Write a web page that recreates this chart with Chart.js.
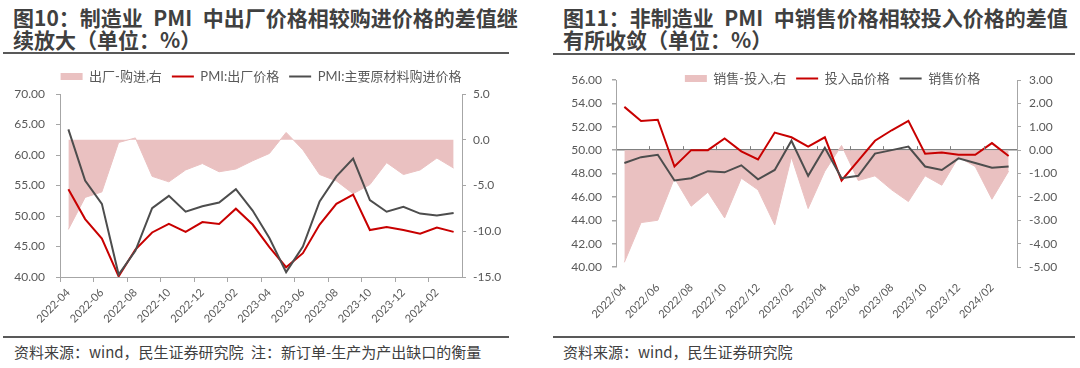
<!DOCTYPE html>
<html>
<head>
<meta charset="utf-8">
<script src="https://cdn.jsdelivr.net/npm/chart.js@4.4.1/dist/chart.umd.min.js"></script>
<style>
html, body { margin: 0; padding: 0; background: #fff; }
body { width: 1080px; height: 368px; position: relative; overflow: hidden; font-family: "Noto Sans CJK SC", sans-serif; }
.title { position: absolute; top: 6px; font-size: 21px; line-height: 22px; font-weight: bold; color: #404040; white-space: nowrap; }
.rule { position: absolute; height: 2px; background: #595959; }
.note { position: absolute; top: 342px; font-size: 15px; line-height: 20px; color: #404040; white-space: nowrap; }
canvas { position: absolute; }
</style>
</head>
<body>
<div class="title" style="left:13px">图10：制造业&ensp;PMI&ensp;中出厂价格相较购进价格的差值继<br>续放大（单位：%）</div>
<div class="rule" style="left:3px; width:506px; top:52px"></div>
<div class="title" style="left:563px">图11：非制造业&ensp;PMI&ensp;中销售价格相较投入价格的差值<br>有所收敛（单位：%）</div>
<div class="rule" style="left:553px; width:522px; top:53px"></div>

<canvas id="c1" width="530" height="277" style="left:0; top:60px"></canvas>
<canvas id="c2" width="535" height="275" style="left:545px; top:62px"></canvas>

<div class="rule" style="left:3px; width:506px; top:336px"></div>
<div class="rule" style="left:553px; width:522px; top:336px"></div>
<div class="note" style="left:14px">资料来源：wind，民生证券研究院&ensp;注：新订单-生产为产出缺口的衡量</div>
<div class="note" style="left:563px">资料来源：wind，民生证券研究院</div>

<script>
// months shown on both charts
const months1 = ['2022-04', '2022-05', '2022-06', '2022-07', '2022-08', '2022-09', '2022-10', '2022-11', '2022-12',
    '2023-01', '2023-02', '2023-03', '2023-04', '2023-05', '2023-06', '2023-07', '2023-08', '2023-09', '2023-10',
    '2023-11', '2023-12', '2024-01', '2024-02', '2024-03'];
const months2 = ['2022/04', '2022/05', '2022/06', '2022/07', '2022/08', '2022/09', '2022/10', '2022/11', '2022/12',
    '2023/01', '2023/02', '2023/03', '2023/04', '2023/05', '2023/06', '2023/07', '2023/08', '2023/09', '2023/10',
    '2023/11', '2023/12', '2024/01', '2024/02', '2024/03'];

// chart 1: manufacturing PMI
const outputPrice = [54.4, 49.5, 46.3, 40.1, 44.5, 47.3, 48.7, 47.4, 49.0, 48.7, 51.2, 48.6, 44.9, 41.6, 43.9, 48.6, 52.0, 53.5, 47.7, 48.2, 47.7, 47.1, 48.1, 47.4];
const purchasePrice = [64.2, 55.8, 52.0, 40.4, 44.3, 51.3, 53.3, 50.7, 51.6, 52.2, 54.4, 50.9, 46.4, 40.8, 45.0, 52.4, 56.5, 59.4, 52.6, 50.7, 51.5, 50.4, 50.1, 50.5];
const gap1 = [-9.8, -6.3, -5.7, -0.3, 0.2, -4.0, -4.6, -3.3, -2.6, -3.5, -3.2, -2.3, -1.5, 0.8, -1.1, -3.8, -4.5, -5.9, -4.9, -2.5, -3.8, -3.3, -2.0, -3.1];

// chart 2: non-manufacturing PMI
const inputPrice = [53.7, 52.5, 52.6, 48.6, 50.0, 50.0, 51.0, 49.9, 49.2, 51.5, 51.1, 50.3, 51.1, 47.4, 49.1, 50.8, 51.7, 52.5, 49.7, 49.8, 49.6, 49.6, 50.6, 49.5];
const salesPrice = [48.9, 49.4, 49.6, 47.4, 47.6, 48.2, 48.1, 48.7, 47.5, 48.3, 50.8, 47.8, 50.2, 47.6, 47.8, 49.7, 50.0, 50.3, 48.6, 48.3, 49.3, 48.9, 48.5, 48.6];
const gap2 = [-4.8, -3.1, -3.0, -1.2, -2.4, -1.8, -2.9, -1.2, -1.7, -3.2, -0.3, -2.5, -0.9, 0.2, -1.3, -1.1, -1.7, -2.2, -1.1, -1.5, -0.3, -0.7, -2.1, -0.9];

const PINK = '#eac1c1';
const RED = '#c80000';
const DARK = '#4d4d4d';
const AXIS = '#a6a6a6';
const LABEL = '#595959';
const NUM_FONT = { family: 'Lato', size: 12 };

// fix legend height, nudge it sideways, and let it paint past its box
const legendTweak = {
    id: 'legendTweak',
    beforeInit(chart, args, opts) {
        const fit = chart.legend.fit;
        chart.legend.fit = function() {
            fit.call(this);
            this.height = opts.height;
        };
    },
    afterLayout(chart, args, opts) {
        chart.legend.left += opts.shift;
        chart.legend.right += opts.shift;
        chart.legend.bottom += opts.extra || 0;
    }
};

// small upward ticks on the 50 line of chart 2
const midTicks = {
    id: 'midTicks',
    afterDatasetsDraw(chart) {
        const xs = chart.scales.x;
        const base = chart.scales.y.getPixelForValue(50);
        const ctx = chart.ctx;
        ctx.save();
        ctx.strokeStyle = '#808080';
        ctx.lineWidth = 1;
        for (let i = 2; i < months2.length; i += 2) {
            const px = Math.round((xs.getPixelForValue(i - 1) + xs.getPixelForValue(i)) / 2) + 0.5;
            ctx.beginPath();
            ctx.moveTo(px, base);
            ctx.lineTo(px, base - 4);
            ctx.stroke();
        }
        ctx.restore();
    }
};

function legendItems(chart) {
    return chart.data.datasets.map((ds, i) => ({
        text: ds.label,
        fillStyle: ds.fill ? PINK : ds.borderColor,
        strokeStyle: ds.fill ? PINK : ds.borderColor,
        lineWidth: ds.fill ? 0 : 2,
        pointStyle: ds.fill ? 'rect' : 'line',
        fontColor: LABEL,
        hidden: false,
        datasetIndex: i
    }));
}

function legendOptions() {
    return {
        display: true,
        position: 'top',
        labels: {
            usePointStyle: true,
            pointStyleWidth: 22,
            boxHeight: 7,
            padding: 10,
            color: LABEL,
            font: { family: 'Lato, "Noto Sans CJK SC"', size: 13 },
            generateLabels: legendItems
        }
    };
}

function createChart1() {
    const ctx = document.getElementById('c1').getContext('2d');
    new Chart(ctx, {
        type: 'line',
        data: {
            labels: months1,
            datasets: [{
                label: '出厂-购进,右',
                data: gap1,
                yAxisID: 'y1',
                fill: 'origin',
                backgroundColor: PINK,
                borderColor: PINK,
                borderWidth: 1,
                pointRadius: 0,
                tension: 0,
                order: 3
            }, {
                label: 'PMI:出厂价格',
                data: outputPrice,
                yAxisID: 'y',
                fill: false,
                borderColor: RED,
                borderWidth: 2,
                pointRadius: 0,
                tension: 0,
                order: 2
            }, {
                label: 'PMI:主要原材料购进价格',
                data: purchasePrice,
                yAxisID: 'y',
                fill: false,
                borderColor: DARK,
                borderWidth: 2,
                pointRadius: 0,
                tension: 0,
                order: 1
            }]
        },
        options: {
            responsive: false,
            animation: false,
            events: [],
            layout: { padding: 0 },
            plugins: {
                legend: legendOptions(),
                legendTweak: { height: 34, shift: -4, extra: 0 },
                tooltip: { enabled: false }
            },
            scales: {
                x: {
                    offset: true,
                    grid: {
                        offset: true,
                        drawOnChartArea: false,
                        tickLength: 5,
                        color: c => (c.index % 2 === 0 ? AXIS : 'rgba(0,0,0,0)')
                    },
                    border: { color: AXIS },
                    ticks: {
                        autoSkip: false,
                        maxRotation: 45,
                        minRotation: 45,
                        padding: 4,
                        color: LABEL,
                        font: { family: 'Lato', size: 11 },
                        callback: (v, i) => (i % 2 === 0 ? months1[i] : '')
                    },
                    afterFit: s => { s.height = 60; }
                },
                y: {
                    position: 'left',
                    min: 40,
                    max: 70,
                    grid: { drawOnChartArea: false, tickLength: 4, color: AXIS },
                    border: { color: AXIS },
                    ticks: { stepSize: 5, padding: 11, color: LABEL, font: NUM_FONT, callback: v => v.toFixed(2) },
                    afterFit: s => { s.width = 60; }
                },
                y1: {
                    position: 'right',
                    min: -15,
                    max: 5,
                    grid: { drawOnChartArea: false, tickLength: 4, color: AXIS },
                    border: { color: AXIS },
                    ticks: { stepSize: 5, padding: 7, color: LABEL, font: NUM_FONT, callback: v => v.toFixed(1) },
                    afterFit: s => { s.width = 68; }
                }
            }
        },
        plugins: [legendTweak]
    });
}

function createChart2() {
    const ctx = document.getElementById('c2').getContext('2d');
    new Chart(ctx, {
        type: 'line',
        data: {
            labels: months2,
            datasets: [{
                label: '销售-投入,右',
                data: gap2,
                yAxisID: 'y1',
                fill: 'origin',
                backgroundColor: PINK,
                borderColor: PINK,
                borderWidth: 1,
                pointRadius: 0,
                tension: 0,
                order: 3
            }, {
                label: '投入品价格',
                data: inputPrice,
                yAxisID: 'y',
                fill: false,
                borderColor: RED,
                borderWidth: 2,
                pointRadius: 0,
                tension: 0,
                order: 2
            }, {
                label: '销售价格',
                data: salesPrice,
                yAxisID: 'y',
                fill: false,
                borderColor: DARK,
                borderWidth: 2,
                pointRadius: 0,
                tension: 0,
                order: 1
            }]
        },
        options: {
            responsive: false,
            animation: false,
            events: [],
            layout: { padding: 0 },
            plugins: {
                legend: legendOptions(),
                legendTweak: { height: 18, shift: 20, extra: 14 },
                tooltip: { enabled: false }
            },
            scales: {
                x: {
                    offset: true,
                    grid: { display: false },
                    border: { display: false },
                    ticks: {
                        autoSkip: false,
                        maxRotation: 45,
                        minRotation: 45,
                        padding: 6,
                        color: LABEL,
                        font: { family: 'Lato', size: 11 },
                        callback: (v, i) => (i % 2 === 0 ? months2[i] : '')
                    },
                    afterFit: s => { s.height = 70; }
                },
                y: {
                    position: 'left',
                    min: 40,
                    max: 56,
                    grid: {
                        drawOnChartArea: true,
                        tickLength: 4,
                        tickColor: AXIS,
                        lineWidth: 1.5,
                        color: c => (c.tick && c.tick.value === 50 ? '#808080' : 'rgba(0,0,0,0)')
                    },
                    border: { color: AXIS },
                    ticks: { stepSize: 2, padding: 10, color: LABEL, font: NUM_FONT, callback: v => v.toFixed(2) },
                    afterFit: s => { s.width = 71; }
                },
                y1: {
                    position: 'right',
                    min: -5,
                    max: 3,
                    grid: { drawOnChartArea: false, tickLength: 4, color: AXIS },
                    border: { color: AXIS },
                    ticks: { stepSize: 1, padding: 8, color: LABEL, font: NUM_FONT, callback: v => v.toFixed(2) },
                    afterFit: s => { s.width = 63; }
                }
            }
        },
        plugins: [legendTweak, midTicks]
    });
}

document.fonts.load('12px Lato').then(function() {
    createChart1();
    createChart2();
});
</script>
</body>
</html>
